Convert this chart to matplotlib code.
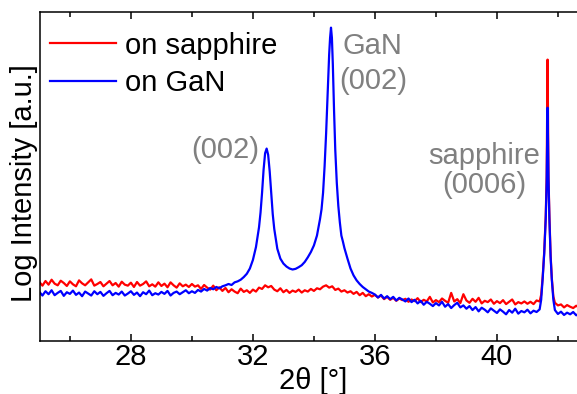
import numpy as np
import matplotlib
matplotlib.use("Agg")
import matplotlib.pyplot as plt
from matplotlib.ticker import MultipleLocator

plt.rcParams['font.family'] = ['Liberation Sans', 'DejaVu Sans']

# scan grid steps (0.1 deg) for the flat parts, finer steps across the peaks
grid_a = [round(25.0 + 0.1 * i, 2) for i in range(70)]     # 25.0 .. 31.9
grid_b = [round(32.0 + 0.1 * i, 2) for i in range(95)]     # 32.0 .. 41.4 (red)
grid_c = [round(36.1 + 0.1 * i, 2) for i in range(54)]     # 36.1 .. 41.4 (blue)
grid_d = [round(41.9 + 0.1 * i, 2) for i in range(11)]     # 41.9 .. 42.9

gan_peak_theta = [32.0, 32.1, 32.2, 32.25, 32.3, 32.35, 32.4, 32.45, 32.5, 32.55,
                  32.6, 32.65, 32.7, 32.8, 32.9, 33.0, 33.1, 33.2, 33.3, 33.4,
                  33.5, 33.6, 33.7, 33.8, 33.9, 34.0, 34.1, 34.2, 34.25, 34.3,
                  34.35, 34.4, 34.45, 34.5, 34.53, 34.56, 34.59, 34.62, 34.66, 34.7,
                  34.75, 34.8, 34.85, 34.9, 34.95, 35.0, 35.1, 35.2, 35.3, 35.4,
                  35.5, 35.6, 35.7, 35.8, 35.9, 36.0]
sap_peak_theta = [41.45, 41.5, 41.55, 41.6, 41.63, 41.66, 41.69, 41.72, 41.76, 41.8, 41.85]

# log intensity, arbitrary units (0..100 over the plot height)
red_base = [17.9, 16.8, 18.2, 17.1, 18.6, 17.4, 16.9, 18.3, 17.6, 16.7,
            18.1, 17.2, 16.6, 18.4, 17.5, 16.9, 17.8, 18.7, 16.8, 17.3,
            17.9, 16.6, 17.4, 18.2, 16.9, 17.6, 16.5, 18.0, 17.1, 16.8,
            17.7, 16.4, 17.9, 16.8, 17.3, 18.1, 16.6, 17.2, 16.5, 17.8,
            16.7, 17.4, 16.3, 17.8, 16.9, 16.2, 17.5, 16.6, 17.1, 16.4,
            17.3, 16.5, 16.9, 15.8, 17.0, 16.2, 15.6, 16.8, 15.4, 16.3,
            15.2, 16.1, 14.8, 15.7, 15.0, 14.5, 15.9, 14.9, 15.4, 14.6]
red_mid = [15.6, 15.0, 16.2, 15.8, 16.9, 16.3, 16.7, 15.6, 15.1, 16.0,
           14.8, 15.5, 14.6, 15.3, 14.9, 15.6, 14.7, 15.4, 15.0, 15.8,
           15.2, 16.0, 15.7, 16.5, 16.9, 16.2, 16.6, 15.5, 15.9, 15.0,
           15.4, 14.7, 15.1, 14.3, 14.9, 13.9, 14.6, 13.6, 14.2, 13.5,
           14.0, 13.2, 13.8, 12.7, 13.4, 12.5, 13.1, 12.2, 12.9, 12.4,
           12.8, 11.9, 12.6, 12.1, 13.0, 11.8, 12.5, 12.0, 13.4, 11.7,
           12.4, 11.8, 12.9, 12.2, 11.6, 14.6, 12.0, 12.7, 11.5, 14.2,
           12.3, 11.6, 12.8, 11.9, 13.1, 11.4, 12.2, 11.8, 12.6, 11.3,
           12.1, 11.5, 12.4, 11.2, 11.9, 12.6, 11.1, 11.8, 11.4, 12.0,
           11.3, 11.9, 11.2, 12.3, 12.0]
red_sap_peak = [14.0, 19.5, 27.0, 38.0, 50.0, 85.4, 50.0, 38.0, 26.0, 19.0, 13.5]
red_tail = [11.6, 10.8, 11.1, 10.2, 10.9, 10.4, 10.0, 10.7, 10.1, 10.5, 10.3]

blue_base = [14.9, 13.8, 15.1, 14.2, 15.4, 13.9, 14.6, 15.2, 13.7, 14.8,
             14.3, 15.3, 14.0, 14.7, 13.6, 15.0, 14.4, 13.8, 15.1, 14.2,
             14.9, 13.7, 14.5, 15.2, 13.9, 14.6, 14.1, 15.0, 13.8, 14.4,
             15.1, 14.0, 14.7, 13.6, 14.8, 14.2, 15.3, 13.9, 14.5, 14.1,
             14.9, 14.3, 15.2, 13.8, 14.6, 15.0, 14.2, 14.8, 15.4, 14.5,
             15.1, 14.6, 15.5, 15.0, 15.8, 15.3, 16.1, 15.7, 16.4, 16.0,
             16.6, 16.9, 17.3, 17.0, 17.8, 18.1, 18.6, 19.4, 20.4, 22.0]
blue_gan_peaks = [24.6, 28.5, 34.5, 39.0, 45.0, 52.0, 57.0, 58.4, 56.5, 51.5,
                  45.0, 38.5, 34.0, 28.0, 25.0, 23.5, 22.6, 22.0, 21.7, 21.9,
                  22.4, 23.0, 24.0, 25.4, 27.0, 29.0, 32.0, 37.0, 40.0, 45.0,
                  53.0, 63.0, 75.0, 87.0, 92.0, 95.1, 92.0, 84.0, 70.0, 58.0,
                  48.0, 41.0, 36.0, 32.0, 30.2, 28.2, 25.0, 22.0, 19.9, 18.4,
                  17.3, 16.4, 15.7, 15.0, 14.6, 14.1]
blue_mid = [13.2, 14.0, 12.9, 13.6, 12.7, 13.4, 12.3, 13.1, 12.6,
            12.0, 12.9, 11.8, 12.5, 11.4, 12.2, 11.0, 11.9, 11.3, 10.6,
            11.5, 10.8, 11.9, 10.4, 11.2, 10.0, 10.9, 11.6, 10.2, 10.8,
            9.8, 10.6, 9.4, 10.3, 9.0, 10.1, 9.5, 8.7, 9.9, 9.2,
            8.5, 9.6, 8.9, 8.1, 9.4, 8.6, 9.8, 8.3, 9.1, 8.7,
            9.5, 8.4, 9.2, 8.8, 9.6]
blue_sap_peak = [12.5, 19.0, 26.5, 37.0, 48.0, 70.8, 49.0, 37.0, 25.5, 18.5, 12.5]
blue_tail = [9.4, 8.2, 8.9, 7.9, 8.6, 8.1, 8.8, 7.8, 8.4, 8.0, 8.5]

theta_red = grid_a + grid_b + sap_peak_theta + grid_d
int_red = red_base + red_mid + red_sap_peak + red_tail
theta_blue = grid_a + gan_peak_theta + grid_c + sap_peak_theta + grid_d
int_blue = blue_base + blue_gan_peaks + blue_mid + blue_sap_peak + blue_tail

fs = 21

fig = plt.figure(figsize=(5.77, 3.94), dpi=100)
ax = fig.add_axes([40/577, 53/394, 546/577, 329.5/394])

ax.plot(theta_red, int_red, color='#ff0000', lw=1.6, label='on sapphire')
ax.plot(theta_blue, int_blue, color='#0000ff', lw=1.6, label='on GaN')

ax.set_xlim(25.02, 42.92)
ax.set_ylim(0, 100)
ax.set_yticks([])
ax.xaxis.set_major_locator(MultipleLocator(4))
ax.xaxis.set_minor_locator(MultipleLocator(2))
ax.tick_params(axis='x', which='both', direction='in', top=True, width=1.1, labelsize=fs, pad=1.5)
ax.tick_params(axis='x', which='major', length=5)
ax.tick_params(axis='x', which='minor', length=3.5)
for s in ax.spines.values():
    s.set_linewidth(1.1)
ax.spines['right'].set_visible(False)

ax.set_xlabel('2θ [°]', fontsize=fs, labelpad=-3)
ax.set_ylabel('Log Intensity [a.u.]', fontsize=fs)
ax.yaxis.set_label_coords(-0.004, 0.48)

gray = '#808080'
ax.text(31.08, 58.1, '(002)', color=gray, fontsize=fs, ha='center', va='center')
ax.text(35.93, 84.3, 'GaN\n(002)', color=gray, fontsize=fs, ha='center', va='center',
        linespacing=1.3)
ax.text(39.57, 51.8, 'sapphire\n(0006)', color=gray, fontsize=fs, ha='center', va='center',
        linespacing=1.05)

ax.legend(loc='upper left', bbox_to_anchor=(0.0183, 0.939), frameon=False, fontsize=fs,
          handlelength=2.26, handletextpad=0.31, labelspacing=0.33, borderpad=0,
          borderaxespad=0)

fig.savefig('out.png', dpi=100)
